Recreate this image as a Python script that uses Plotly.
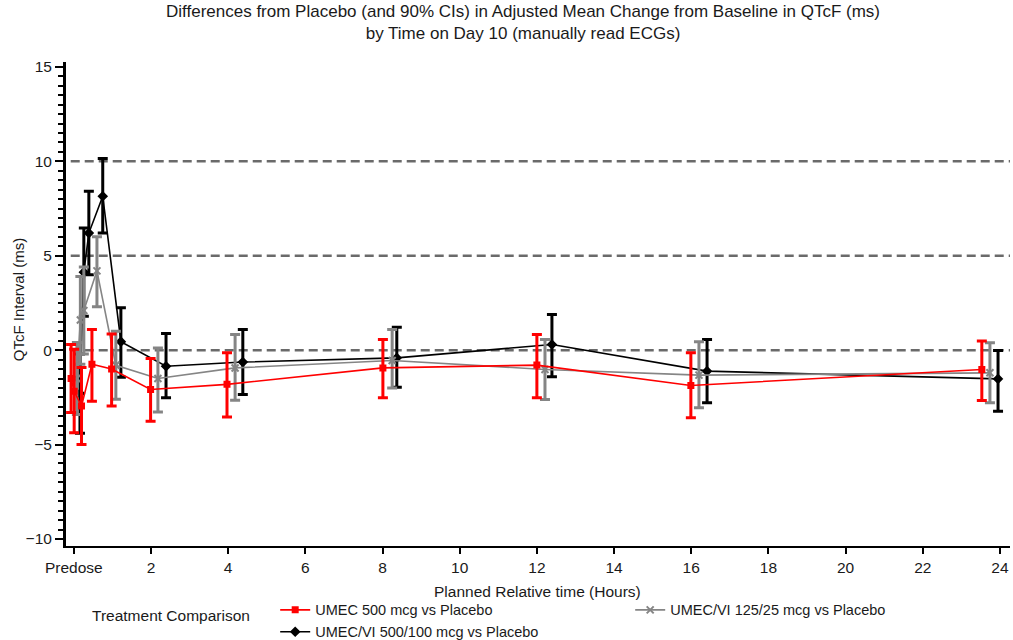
import plotly.graph_objects as go

# ---------------- data ----------------
title_lines = ["Differences from Placebo (and 90% CIs) in Adjusted Mean Change from Baseline in QTcF (ms)",
               "by Time on Day 10 (manually read ECGs)"]
x_title = "Planned Relative time (Hours)"
y_title = "QTcF Interval (ms)"
legend_title = "Treatment Comparison"

x_tick_vals = [0, 2, 4, 6, 8, 10, 12, 14, 16, 18, 20, 22, 24]
x_tick_text = ["Predose", "2", "4", "6", "8", "10", "12", "14", "16", "18", "20", "22", "24"]
reference_levels = [0, 5, 10]

series_names = ["UMEC 500 mcg vs Placebo",
                "UMEC/VI 125/25 mcg vs Placebo",
                "UMEC/VI 500/100 mcg vs Placebo"]

# planned relative time (hours) at which each comparison is plotted
red_time = [-0.07, 0.01, 0.20, 0.47, 0.98, 1.99, 3.97, 8.01, 12.00, 15.99, 23.53]
red_mean = [-1.50, -2.17, -2.96, -0.75, -1.00, -2.08, -1.81, -0.94, -0.79, -1.87, -1.02]
red_lo = [-3.30, -4.37, -5.00, -2.70, -2.95, -3.76, -3.54, -2.52, -2.52, -3.58, -2.66]
red_hi = [0.30, 0.05, -0.92, 1.10, 0.85, -0.44, -0.14, 0.57, 0.83, -0.14, 0.48]

gray_time = [0.08, 0.17, 0.26, 0.60, 1.09, 2.18, 4.18, 8.25, 12.21, 16.20, 23.74]
gray_mean = [-1.50, 1.60, 2.10, 4.20, -0.80, -1.50, -0.94, -0.55, -1.02, -1.32, -1.20]
gray_lo = [-3.40, -0.75, -0.20, 2.30, -2.60, -3.28, -2.65, -2.00, -2.61, -3.05, -2.79]
gray_hi = [0.40, 3.90, 4.40, 6.00, 1.00, 0.12, 0.83, 1.09, 0.56, 0.44, 0.39]

black_time = [0.16, 0.26, 0.39, 0.75, 1.22, 2.39, 4.38, 8.37, 12.39, 16.41, 23.95]
black_mean = [-2.30, 4.13, 6.20, 8.15, 0.45, -0.85, -0.63, -0.41, 0.30, -1.11, -1.52]
black_lo = [-4.40, 1.80, 4.00, 6.20, -1.43, -2.52, -2.35, -1.96, -1.41, -2.79, -3.23]
black_hi = [-0.20, 6.47, 8.41, 10.15, 2.24, 0.88, 1.09, 1.22, 1.89, 0.56, -0.02]

# ---------------- styling ----------------
FONT = "Liberation Sans, Arial, sans-serif"
TXT = "#1a1a1a"
RED, GRAY, BLACK = "#ff0000", "#858585", "#000000"

series = [
    # drawn first -> bottom
    dict(name=series_names[2], t=black_time, m=black_mean, lo=black_lo, hi=black_hi,
         color=BLACK, symbol="diamond", size=6, rank=3),
    dict(name=series_names[1], t=gray_time, m=gray_mean, lo=gray_lo, hi=gray_hi,
         color=GRAY, symbol="x-thin-open", size=7, rank=2),
    dict(name=series_names[0], t=red_time, m=red_mean, lo=red_lo, hi=red_hi,
         color=RED, symbol="square", size=5, rank=1),
]

fig = go.Figure()
for s in series:
    plus = [h - m for h, m in zip(s["hi"], s["m"])]
    minus = [m - l for m, l in zip(s["m"], s["lo"])]
    fig.add_trace(go.Scatter(
        x=s["t"], y=s["m"], name=s["name"], mode="lines+markers",
        line=dict(color=s["color"], width=1.6),
        marker=dict(color=s["color"], symbol=s["symbol"], size=s["size"],
                    line=dict(color=s["color"], width=2)),
        error_y=dict(type="data", symmetric=False, array=plus, arrayminus=minus,
                     color=s["color"], thickness=3, width=5),
        legendrank=s["rank"],
    ))

for lvl in reference_levels:
    fig.add_shape(type="line", xref="paper", yref="y", x0=0.005, x1=1, y0=lvl, y1=lvl,
                  line=dict(color="#6a6a6a", width=2.5, dash="9px,5px"), layer="below")

# plot area: page x 66..1010, y 62..546
fig.update_layout(
    width=1013, height=640,
    margin=dict(l=66, r=3, t=62, b=94, autoexpand=False),
    paper_bgcolor="white", plot_bgcolor="white",
    font=dict(family=FONT, size=15, color=TXT),
    showlegend=True,
    legend=dict(orientation="h", x=0.2216, y=-0.099, xanchor="left", yanchor="top",
                entrywidth=310, entrywidthmode="pixels", traceorder="normal",
                tracegroupgap=0, itemwidth=30,
                font=dict(family=FONT, size=14.5, color=TXT), bgcolor="rgba(0,0,0,0)"),
    xaxis=dict(range=[-0.202, 24.26], tickmode="array", tickvals=x_tick_vals,
               ticktext=x_tick_text, showgrid=False, zeroline=False,
               showline=True, linecolor="black", linewidth=2,
               ticks="outside", ticklen=6, tickwidth=2, tickcolor="black",
               tickfont=dict(family=FONT, size=15.5, color=TXT)),
    yaxis=dict(range=[-10.37, 15.26], tickmode="linear", tick0=0, dtick=5,
               showgrid=False, zeroline=False,
               showline=True, linecolor="black", linewidth=3,
               ticks="outside", ticklen=8, tickwidth=2, tickcolor="black",
               minor=dict(dtick=0.5, tick0=0, ticks="outside", ticklen=5,
                          tickwidth=2, tickcolor="black", showgrid=False),
               tickfont=dict(family=FONT, size=15.5, color=TXT)),
)

# two-line title as one text block
fig.add_annotation(text="<br>".join(title_lines), xref="paper", yref="paper",
                   x=0.484, y=1 + (62 - 22.5) / 484, xanchor="center", yanchor="middle",
                   showarrow=False, borderpad=0, font=dict(family=FONT, size=17, color=TXT))
fig.add_annotation(text=y_title, xref="paper", yref="paper", x=-0.0508, y=0.508,
                   xanchor="center", yanchor="middle", textangle=-90, showarrow=False,
                   font=dict(family=FONT, size=15, color=TXT))
fig.add_annotation(text=x_title, xref="paper", yref="paper", x=0.499, y=-0.093,
                   xanchor="center", yanchor="middle", showarrow=False,
                   font=dict(family=FONT, size=15.5, color=TXT))
fig.add_annotation(text=legend_title, xref="paper", yref="paper", x=0.025, y=-0.143,
                   xanchor="left", yanchor="middle", showarrow=False,
                   font=dict(family=FONT, size=15.5, color=TXT))

# remove the browser's default 8px body margin so the figure sits at the page origin
fig.write_html("out.html", config={"displayModeBar": False},
               post_script="document.body.style.margin='0';")
